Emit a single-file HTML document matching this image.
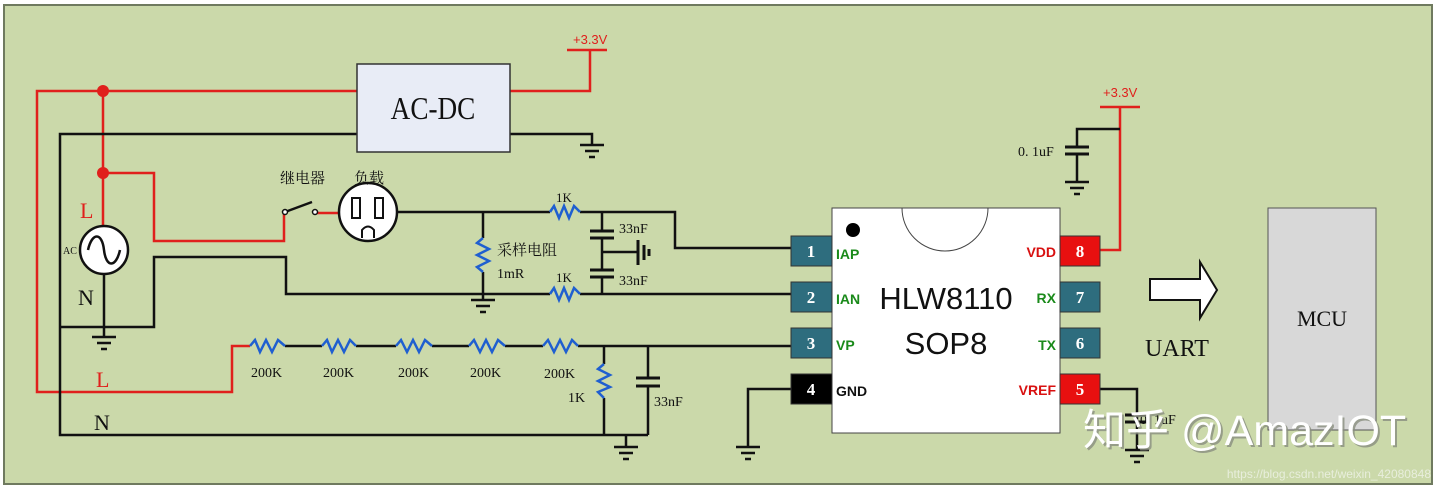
<!DOCTYPE html>
<html><head><meta charset="utf-8"><style>
html,body{margin:0;padding:0;background:#fff;}
svg{display:block}
.s{font-family:"Liberation Serif","Noto Serif CJK SC",serif;}
.a{font-family:"Liberation Sans","Noto Sans CJK SC",sans-serif;}
</style></head><body>
<svg width="1440" height="490" viewBox="0 0 1440 490" xmlns="http://www.w3.org/2000/svg">
<defs>
<g id="gnd"><line x1="-12" y1="0" x2="12" y2="0"/><line x1="-7" y1="6" x2="7" y2="6"/><line x1="-3" y1="12" x2="3" y2="12"/></g>
</defs>
<rect x="4" y="5" width="1428" height="479" fill="#cbd9aa" stroke="#6f7a5f" stroke-width="2"/>
<g fill="none" stroke-width="2.5" stroke-linejoin="miter">
<g stroke="#e0201c">
<polyline points="357,91 37,91 37,392 232,392 232,346 250,346"/>
<line x1="103" y1="91" x2="103" y2="227"/>
<polyline points="103,173 154,173 154,241 284,241 284,213"/>
<line x1="316" y1="213" x2="345" y2="213"/>
<polyline points="510,91 590,91 590,50"/>
<line x1="567" y1="50" x2="607" y2="50"/>
<polyline points="1100,250 1120,250 1120,107"/>
<line x1="1100" y1="107" x2="1140" y2="107"/>
</g>
<g stroke="#111">
<polyline points="357,134 60,134 60,435 648,435"/>
<polyline points="510,134 592,134 592,145"/>
<line x1="104" y1="274" x2="104" y2="337"/>
<polyline points="60,327 154,327 154,257 286,257 286,294 550,294"/>
<polyline points="580,294 795,294"/>
<polyline points="397,212 550,212"/>
<polyline points="580,212 675,212 675,248 795,248"/>
<polyline points="483,212 483,238"/>
<polyline points="483,272 483,300"/>
<polyline points="602,212 602,231"/>
<polyline points="602,238 602,270"/>
<polyline points="602,277 602,294"/>
<line x1="602" y1="252" x2="638" y2="252"/>
<polyline points="285,346 322,346"/><polyline points="356,346 396,346"/><polyline points="432,346 469,346"/><polyline points="505,346 543,346"/>
<polyline points="578,346 795,346"/>
<polyline points="604,346 604,364"/><polyline points="604,398 604,435"/>
<polyline points="648,346 648,378"/><polyline points="648,386 648,435"/>
<line x1="626" y1="435" x2="626" y2="447"/>
<polyline points="791,389 748,389 748,447"/>
<polyline points="1100,389 1137,389 1137,450"/>
<polyline points="1120,129 1077,129 1077,147"/>
<polyline points="1077,154 1077,182"/>
<line x1="285" y1="212" x2="312" y2="202"/>
<g stroke-width="3">
<line x1="590" y1="231" x2="614" y2="231"/><line x1="590" y1="238" x2="614" y2="238"/>
<line x1="590" y1="270" x2="614" y2="270"/><line x1="590" y1="277" x2="614" y2="277"/>
<line x1="636" y1="378" x2="660" y2="378"/><line x1="636" y1="386" x2="660" y2="386"/>
<line x1="1065" y1="147" x2="1089" y2="147"/><line x1="1065" y1="154" x2="1089" y2="154"/>
<line x1="1125" y1="415" x2="1149" y2="415"/><line x1="1125" y1="422" x2="1149" y2="422"/>
<line x1="638" y1="240" x2="638" y2="265"/><line x1="644" y1="245" x2="644" y2="260"/><line x1="649" y1="249" x2="649" y2="256"/>
</g>
</g>
<g stroke="#111" stroke-width="2.5">
<use href="#gnd" x="592" y="145"/><use href="#gnd" x="104" y="337"/><use href="#gnd" x="483" y="300"/>
<use href="#gnd" x="626" y="447"/><use href="#gnd" x="748" y="447"/><use href="#gnd" x="1137" y="450"/><use href="#gnd" x="1077" y="182"/>
</g>
<g fill="none" stroke="#1f5fd0" stroke-width="2.5">
<polyline points="550,212 554,206 559,218 564,206 569,218 574,206 580,212"/>
<polyline points="550,294 554,288 559,300 564,288 569,300 574,288 580,294"/>
<polyline points="250,346 255,340 260,352 266,340 272,352 278,340 285,346"/>
<polyline points="322,346 327,340 332,352 338,340 344,352 350,340 356,346"/>
<polyline points="396,346 401,340 407,352 413,340 419,352 425,340 432,346"/>
<polyline points="469,346 474,340 480,352 486,340 492,352 498,340 505,346"/>
<polyline points="543,346 548,340 554,352 560,340 566,352 572,340 578,346"/>
<polyline points="483,238 477,243 489,249 477,255 489,261 477,267 483,272"/>
<polyline points="604,364 598,369 610,375 598,381 610,387 598,392 604,398"/>
</g>
<circle cx="103" cy="91" r="6" fill="#e0201c"/><circle cx="103" cy="173" r="6" fill="#e0201c"/>
<circle cx="285" cy="212" r="2.5" fill="#fff" stroke="#111" stroke-width="1.5"/>
<circle cx="315" cy="212" r="2.5" fill="#fff" stroke="#111" stroke-width="1.5"/>
<circle cx="104" cy="250" r="24" fill="#fff" stroke="#111" stroke-width="2.5"/>
<path d="M88,250 C92,232 102,232 104,250 C106,268 116,268 120,250" fill="none" stroke="#111" stroke-width="2.5"/>
<circle cx="368" cy="212" r="29" fill="#fff" stroke="#111" stroke-width="2.5"/>
<rect x="352" y="198" width="8" height="20" fill="#fff" stroke="#111" stroke-width="2"/>
<rect x="375" y="198" width="8" height="20" fill="#fff" stroke="#111" stroke-width="2"/>
<path d="M362,238 L362,230 Q368,223 374,230 L374,238" fill="#fff" stroke="#111" stroke-width="2"/>
<rect x="357" y="64" width="153" height="88" fill="#e8ecf6" stroke="#333" stroke-width="1.5"/>
<text x="433" y="119" class="s" font-size="32" text-anchor="middle" fill="#111" transform="translate(433 0) scale(0.85 1) translate(-433 0)">AC-DC</text>
<rect x="832" y="208" width="228" height="225" fill="#fff" stroke="#444" stroke-width="1"/>
<path d="M902,208 A43,43 0 0 0 988,208" fill="none" stroke="#444" stroke-width="1"/>
<circle cx="853" cy="230" r="7" fill="#000"/>
<g stroke="#333" stroke-width="1">
<rect x="791" y="236" width="41" height="30" fill="#2e6d7e"/>
<rect x="791" y="282" width="41" height="30" fill="#2e6d7e"/>
<rect x="791" y="328" width="41" height="30" fill="#2e6d7e"/>
<rect x="791" y="374" width="41" height="30" fill="#000"/>
<rect x="1060" y="236" width="40" height="30" fill="#e81010"/>
<rect x="1060" y="282" width="40" height="30" fill="#2e6d7e"/>
<rect x="1060" y="328" width="40" height="30" fill="#2e6d7e"/>
<rect x="1060" y="374" width="40" height="30" fill="#e81010"/>
</g>
<g class="s" font-size="17" font-weight="bold" fill="#fff" text-anchor="middle">
<text x="811" y="257">1</text><text x="811" y="303">2</text><text x="811" y="349">3</text><text x="811" y="395">4</text>
<text x="1080" y="257">8</text><text x="1080" y="303">7</text><text x="1080" y="349">6</text><text x="1080" y="395">5</text>
</g>
<g class="a" font-size="14" font-weight="bold">
<text x="836" y="259" fill="#1a8a1a">IAP</text><text x="836" y="304" fill="#1a8a1a">IAN</text><text x="836" y="350" fill="#1a8a1a">VP</text><text x="836" y="396" fill="#111">GND</text>
<text x="1056" y="257" fill="#d81010" text-anchor="end">VDD</text><text x="1056" y="303" fill="#1a8a1a" text-anchor="end">RX</text><text x="1056" y="350" fill="#1a8a1a" text-anchor="end">TX</text><text x="1056" y="395" fill="#d81010" text-anchor="end">VREF</text>
</g>
<text x="946" y="309" class="a" font-size="31" text-anchor="middle" fill="#111">HLW8110</text>
<text x="946" y="354" class="a" font-size="31" text-anchor="middle" fill="#111">SOP8</text>
<polygon points="1150,279 1200,279 1200,262 1217,290 1200,318 1200,300 1150,300" fill="#fff" stroke="#111" stroke-width="2"/>
<text x="1177" y="356" class="s" font-size="24" text-anchor="middle" fill="#111">UART</text>
<rect x="1268" y="208" width="108" height="222" fill="#d8d8d8" stroke="#555" stroke-width="1"/>
<text x="1322" y="326" class="s" font-size="22" text-anchor="middle" fill="#111">MCU</text>
<g class="s" fill="#111">
<text x="63" y="254" font-size="10">AC</text>
<text x="78" y="305" font-size="22">N</text>
<text x="94" y="430" font-size="22">N</text>
<text x="80" y="218" font-size="22" fill="#e0201c">L</text>
<text x="96" y="387" font-size="22" fill="#e0201c">L</text>
<text x="573" y="44" font-size="13" fill="#e0201c" class="a">+3.3V</text>
<text x="1103" y="97" font-size="13" fill="#e0201c" class="a">+3.3V</text>
<text x="1018" y="156" font-size="14">0. 1uF</text>
<text x="1140" y="424" font-size="14">0. 1uF</text>
<text x="280" y="183" font-size="15">继电器</text>
<text x="354" y="183" font-size="15">负载</text>
<text x="497" y="255" font-size="15">采样电阻</text>
<text x="497" y="278" font-size="14">1mR</text>
<text x="556" y="202" font-size="13">1K</text>
<text x="556" y="282" font-size="13">1K</text>
<text x="619" y="233" font-size="14">33nF</text>
<text x="619" y="285" font-size="14">33nF</text>
<text x="568" y="402" font-size="14">1K</text>
<text x="654" y="406" font-size="14">33nF</text>
<text x="251" y="377" font-size="14">200K</text>
<text x="323" y="377" font-size="14">200K</text>
<text x="398" y="377" font-size="14">200K</text>
<text x="470" y="377" font-size="14">200K</text>
<text x="544" y="378" font-size="14">200K</text>
</g>
<text x="1085" y="447" class="a" font-size="43" fill="#8a8f80" opacity="0.8">知乎 @AmazIOT</text>
<text x="1083" y="445" class="a" font-size="43" fill="#ffffff">知乎 @AmazIOT</text>
<text x="1431" y="478" class="a" font-size="12" fill="#e8eedc" text-anchor="end">https://blog.csdn.net/weixin_42080848</text>
</svg>
</body></html>
